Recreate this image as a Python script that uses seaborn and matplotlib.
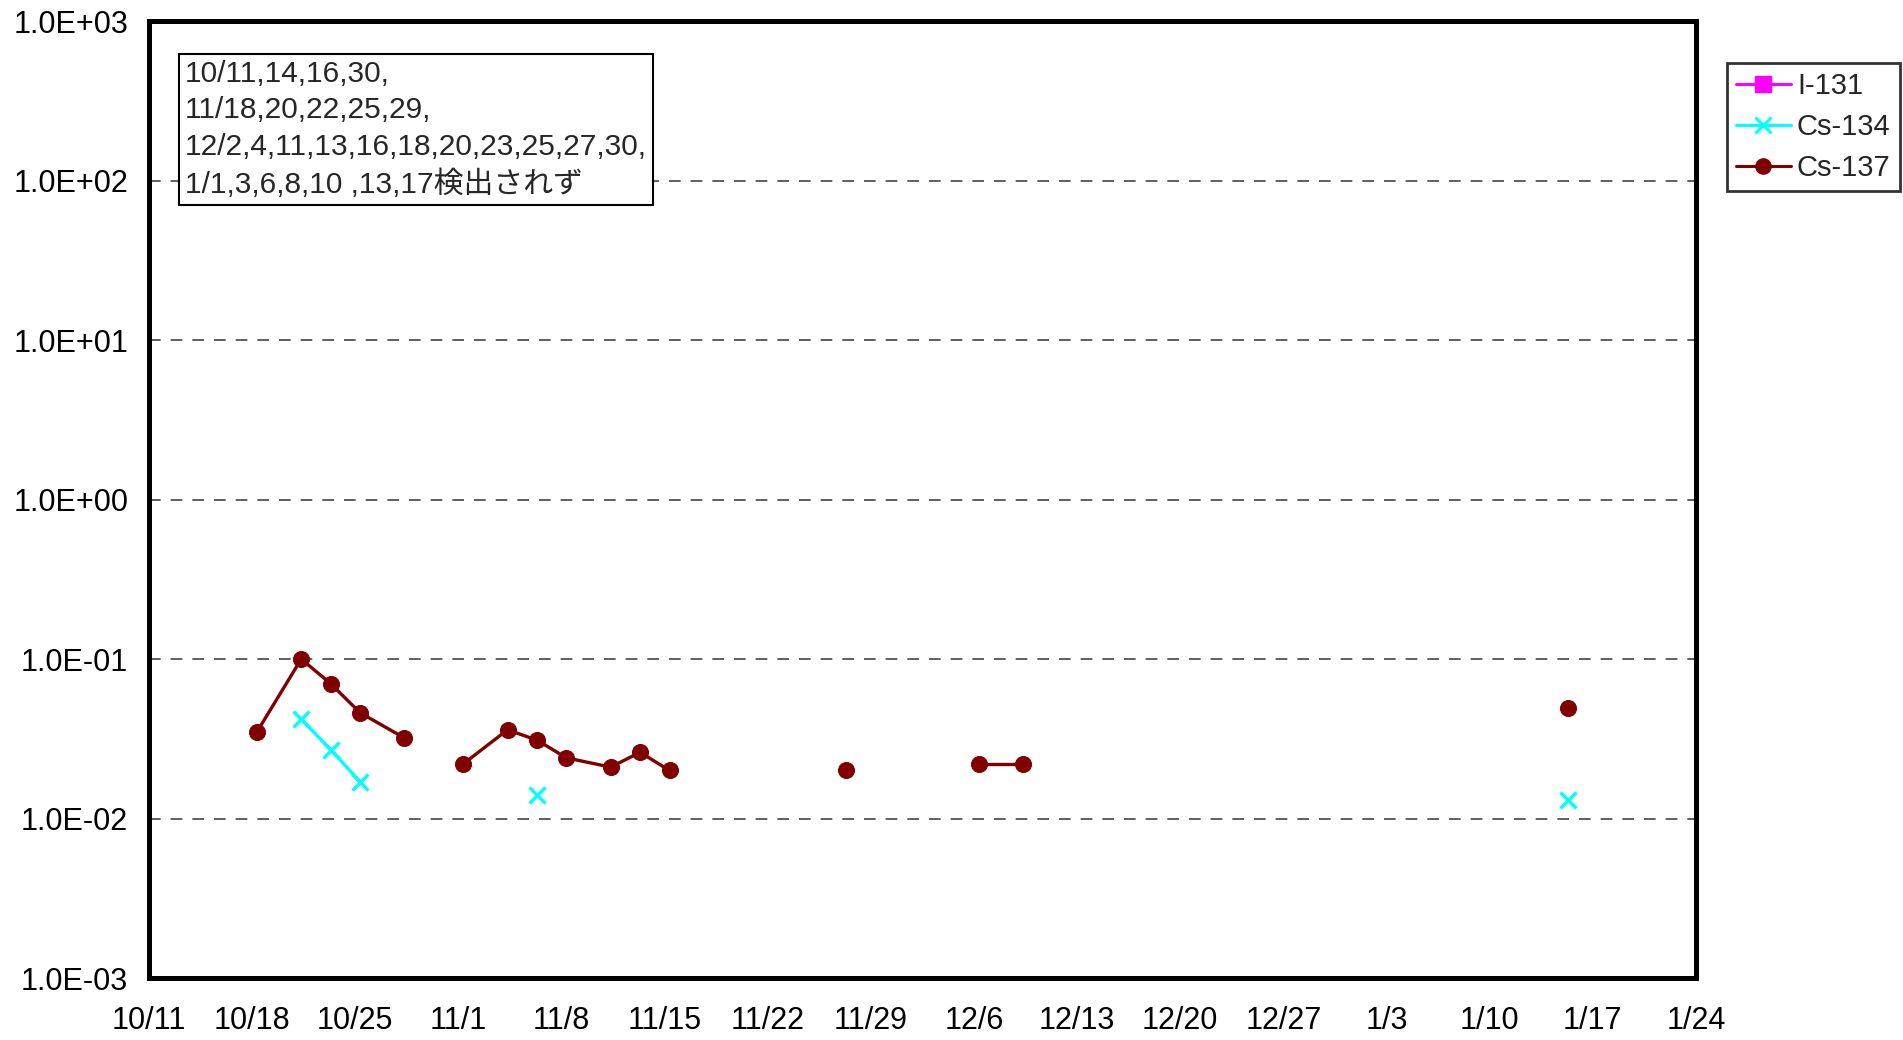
import numpy as np
import pandas as pd
import matplotlib.pyplot as plt
import matplotlib.dates as mdates
from matplotlib.lines import Line2D
from matplotlib.ticker import FixedLocator, FuncFormatter
import seaborn as sns

# measurement dates (MM/DD, 2011-10 .. 2012-01); NaN = not detected
dates = ['10/18', '10/21', '10/23', '10/25', '10/28', '10/30',
         '11/1', '11/4', '11/6', '11/8', '11/11', '11/13', '11/15',
         '11/18', '11/20', '11/22', '11/25', '11/27', '11/29',
         '12/2', '12/4', '12/6', '12/9', '12/11', '12/13', '12/16',
         '12/18', '12/20', '12/23', '12/25', '12/27', '12/30',
         '1/1', '1/3', '1/6', '1/8', '1/10', '1/13', '1/15']
nan = np.nan
cs137 = [0.035, 0.100, 0.070, 0.046, 0.032, nan,
         0.022, 0.036, 0.031, 0.024, 0.021, 0.026, 0.020,
         nan, nan, nan, nan, 0.020, nan,
         nan, nan, 0.022, 0.022, nan, nan, nan,
         nan, nan, nan, nan, nan, nan,
         nan, nan, nan, nan, nan, nan, 0.049]
cs134 = [nan, 0.042, 0.027, 0.017, nan, nan,
         nan, nan, 0.014, nan, nan, nan, nan,
         nan, nan, nan, nan, nan, nan,
         nan, nan, nan, nan, nan, nan, nan,
         nan, nan, nan, nan, nan, nan,
         nan, nan, nan, nan, nan, nan, 0.013]

tick_labels = ['10/11', '10/18', '10/25', '11/1', '11/8', '11/15', '11/22',
               '11/29', '12/6', '12/13', '12/20', '12/27', '1/3', '1/10',
               '1/17', '1/24']
note = ("10/11,14,16,30,\n11/18,20,22,25,29,\n"
        "12/2,4,11,13,16,18,20,23,25,27,30,\n1/1,3,6,8,10 ,13,17検出されず")


def to_ts(md, hour=0):
    m, d = (int(v) for v in md.split('/'))
    year = 2011 if m >= 10 else 2012
    return pd.Timestamp(year=year, month=m, day=d, hour=hour)


def make_frame(values):
    df = pd.DataFrame({'date': [to_ts(d, 8) for d in dates], 'value': values})
    df['seg'] = df['value'].isna().cumsum()
    return df.dropna()


sns.set_theme(style="white")
plt.rcParams['font.family'] = ['Liberation Sans', 'Noto Sans CJK JP', 'DejaVu Sans']

fig = plt.figure(figsize=(19.03, 10.40), dpi=100)
ax = fig.add_axes([0.0783, 0.0596, 0.8129, 0.9202])

ax.set_yscale('log')
for y in [1e-2, 1e-1, 1e0, 1e1, 1e2]:
    ax.axhline(y, color='#444444', lw=1.2, dashes=(7, 6), zorder=0)

c137 = '#800000'
c134 = '#00FFFF'
sns.lineplot(data=make_frame(cs137), x='date', y='value', units='seg',
             estimator=None, color=c137, lw=2.4, marker='o', markersize=11.5,
             markeredgecolor=c137, ax=ax, legend=False)
sns.lineplot(data=make_frame(cs134), x='date', y='value', units='seg',
             estimator=None, color=c134, lw=2.4, marker='x', markersize=11.5,
             markeredgecolor=c134, markeredgewidth=2.4, ax=ax, legend=False)

ticks = [to_ts(t) for t in tick_labels]
ax.set_xlim(ticks[0], ticks[-1])
ax.set_ylim(1e-3, 1e3)
ax.xaxis.set_major_locator(FixedLocator(mdates.date2num(ticks)))
ax.set_xticklabels(tick_labels)
ax.yaxis.set_major_locator(FixedLocator([10.0 ** k for k in range(-3, 4)]))
ax.yaxis.set_minor_locator(FixedLocator([]))
ax.yaxis.set_major_formatter(FuncFormatter(lambda v, p: f"{v:.1E}"))
ax.tick_params(axis='x', direction='in', length=7, width=1, color='#333333',
               labelsize=22, pad=20, labelcolor='black')
ax.tick_params(axis='y', length=0, labelsize=22, pad=15, labelcolor='black')
ax.set_xlabel('')
ax.set_ylabel('')
for s in ax.spines.values():
    s.set_color('black')
    s.set_linewidth(3.6)

ax.text(0.023, 0.959, note, transform=ax.transAxes, fontsize=21.5,
        va='top', ha='left', linespacing=1.37,
        bbox=dict(boxstyle='square,pad=0.2', facecolor='white',
                  edgecolor='black', lw=1.5))

handles = [
    Line2D([], [], color='#FF00FF', lw=2.2, marker='s', markersize=11),
    Line2D([], [], color=c134, lw=2.2, marker='x', markersize=11, markeredgewidth=2.2),
    Line2D([], [], color=c137, lw=2.2, marker='o', markersize=11),
]
leg = fig.legend(handles, ['I-131', 'Cs-134', 'Cs-137'], loc='upper left',
                 bbox_to_anchor=(1727 / 1903, 1 - 63 / 1040), fontsize=21,
                 frameon=True, fancybox=False, handlelength=1.9,
                 handletextpad=0.2, borderpad=0.3, labelspacing=0.45,
                 borderaxespad=0)
leg.get_frame().set_edgecolor('black')
leg.get_frame().set_linewidth(2)

fig.savefig('out.png', dpi=100)
